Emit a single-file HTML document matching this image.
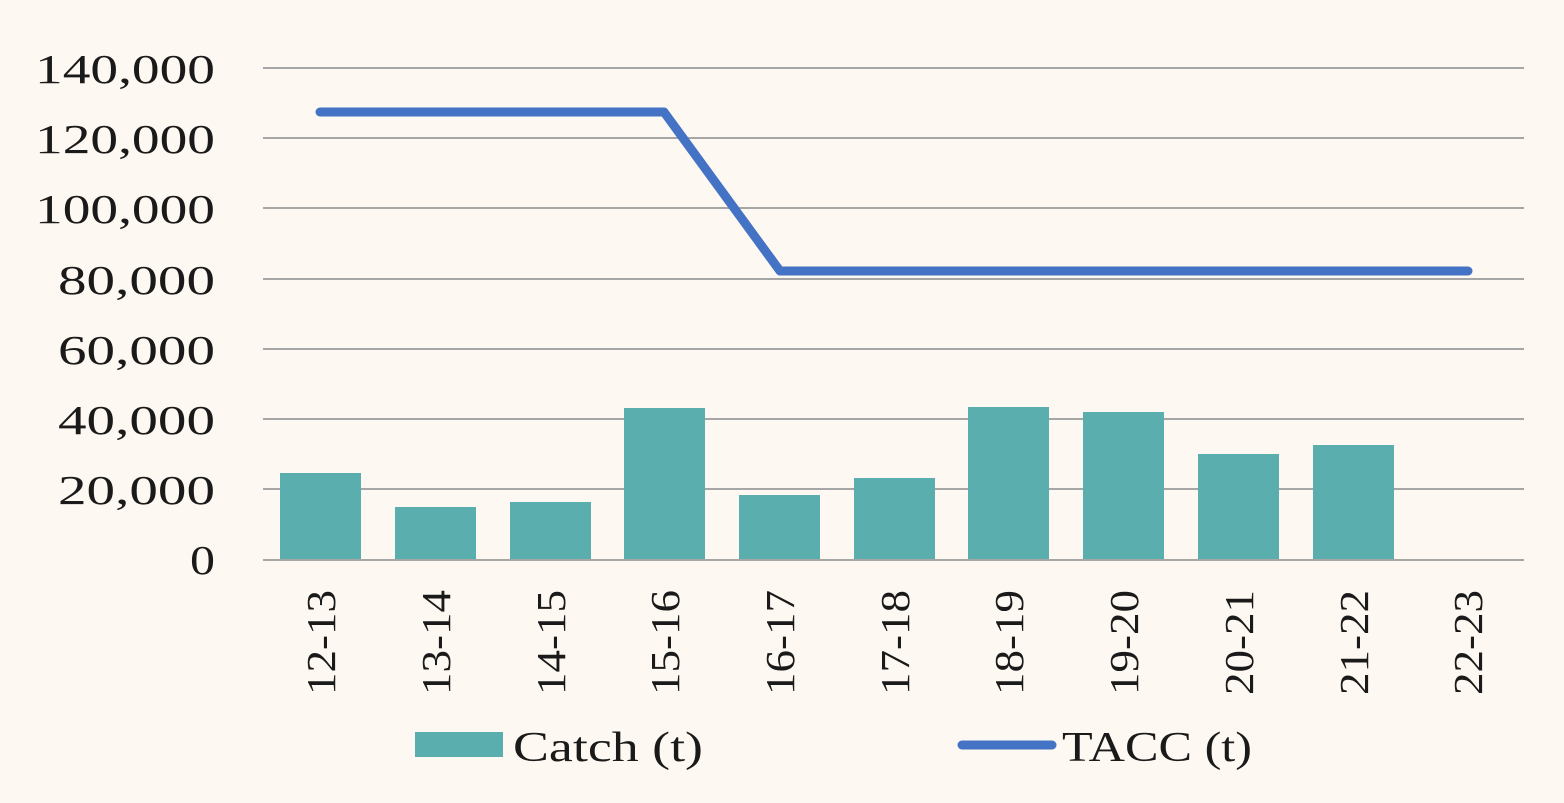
<!DOCTYPE html>
<html><head><meta charset="utf-8"><style>
html,body{margin:0;padding:0;background:#fdf8f1;}
svg{display:block}
text{font-family:"Liberation Serif",serif;fill:#1a1a1a}
</style></head><body>
<svg width="1564" height="803" viewBox="0 0 1564 803">
<rect width="1564" height="803" fill="#fdf8f1"/>
<g stroke="#a6a6a6" stroke-width="2">
<line x1="263" y1="68" x2="1524" y2="68"/>
<line x1="263" y1="138" x2="1524" y2="138"/>
<line x1="263" y1="208" x2="1524" y2="208"/>
<line x1="263" y1="279" x2="1524" y2="279"/>
<line x1="263" y1="349" x2="1524" y2="349"/>
<line x1="263" y1="419" x2="1524" y2="419"/>
<line x1="263" y1="489" x2="1524" y2="489"/>
</g>
<g font-size="41" lengthAdjust="spacingAndGlyphs">
<text x="35" y="83" textLength="180" lengthAdjust="spacingAndGlyphs">140,000</text>
<text x="35" y="153" textLength="180" lengthAdjust="spacingAndGlyphs">120,000</text>
<text x="35" y="223" textLength="180" lengthAdjust="spacingAndGlyphs">100,000</text>
<text x="58" y="294" textLength="157" lengthAdjust="spacingAndGlyphs">80,000</text>
<text x="58" y="364" textLength="157" lengthAdjust="spacingAndGlyphs">60,000</text>
<text x="58" y="434" textLength="157" lengthAdjust="spacingAndGlyphs">40,000</text>
<text x="58" y="504" textLength="157" lengthAdjust="spacingAndGlyphs">20,000</text>
<text x="190" y="574" textLength="25" lengthAdjust="spacingAndGlyphs">0</text>
</g>
<g fill="#5aaeae">
<rect x="280" y="473" width="81" height="87"/>
<rect x="395" y="507" width="81" height="53"/>
<rect x="510" y="502" width="81" height="58"/>
<rect x="624" y="408" width="81" height="152"/>
<rect x="739" y="495" width="81" height="65"/>
<rect x="854" y="478" width="81" height="82"/>
<rect x="968" y="407" width="81" height="153"/>
<rect x="1083" y="412" width="81" height="148"/>
<rect x="1198" y="454" width="81" height="106"/>
<rect x="1313" y="445" width="81" height="115"/>
</g>
<line x1="263" y1="560" x2="1524" y2="560" stroke="#a6a6a6" stroke-width="2"/>
<polyline points="320,112 664,112 780,271 1468,271" fill="none" stroke="#4472c4" stroke-width="9" stroke-linecap="round" stroke-linejoin="round"/>
<g font-size="41">
<text transform="translate(335,695) rotate(-90)" textLength="105" lengthAdjust="spacingAndGlyphs">12-13</text>
<text transform="translate(450,695) rotate(-90)" textLength="105" lengthAdjust="spacingAndGlyphs">13-14</text>
<text transform="translate(565,695) rotate(-90)" textLength="105" lengthAdjust="spacingAndGlyphs">14-15</text>
<text transform="translate(679,695) rotate(-90)" textLength="105" lengthAdjust="spacingAndGlyphs">15-16</text>
<text transform="translate(794,695) rotate(-90)" textLength="105" lengthAdjust="spacingAndGlyphs">16-17</text>
<text transform="translate(909,695) rotate(-90)" textLength="105" lengthAdjust="spacingAndGlyphs">17-18</text>
<text transform="translate(1023,695) rotate(-90)" textLength="105" lengthAdjust="spacingAndGlyphs">18-19</text>
<text transform="translate(1138,695) rotate(-90)" textLength="105" lengthAdjust="spacingAndGlyphs">19-20</text>
<text transform="translate(1253,695) rotate(-90)" textLength="105" lengthAdjust="spacingAndGlyphs">20-21</text>
<text transform="translate(1368,695) rotate(-90)" textLength="105" lengthAdjust="spacingAndGlyphs">21-22</text>
<text transform="translate(1482,695) rotate(-90)" textLength="105" lengthAdjust="spacingAndGlyphs">22-23</text>
</g>
<rect x="415" y="732" width="88" height="25" fill="#5aaeae"/>
<text x="513" y="761" font-size="42" textLength="190" lengthAdjust="spacingAndGlyphs">Catch (t)</text>
<line x1="962" y1="745" x2="1052" y2="745" stroke="#4472c4" stroke-width="9" stroke-linecap="round"/>
<text x="1062" y="761" font-size="42" textLength="190" lengthAdjust="spacingAndGlyphs">TACC (t)</text>
</svg>
</body></html>
